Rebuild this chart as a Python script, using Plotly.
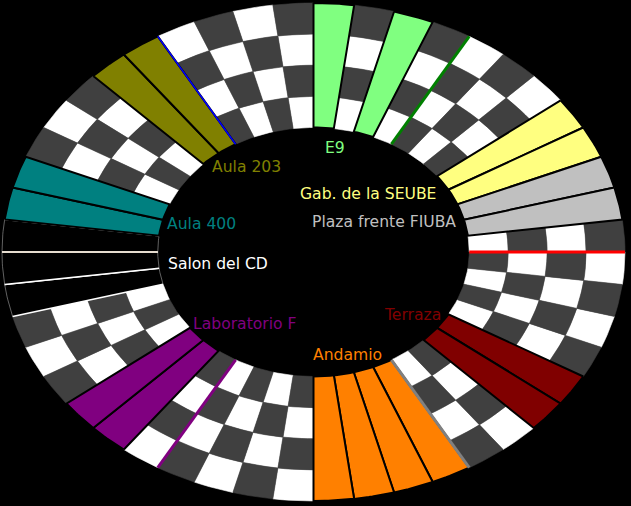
import numpy as np
import plotly.graph_objects as go

# ---------------- data ----------------
N_SLOTS = 48          # angular slots around the ring
N_RINGS = 4           # checker rings
R_IN, R_OUT = 0.5, 1.0

locations = ["E9", "Gab. de la SEUBE", "Plaza frente FIUBA", "Terraza", "Andamio",
             "Laboratorio F", "Salon del CD", "Aula 400", "Aula 203"]
location_colors = ["#80FF80", "#FFFF80", "#C0C0C0", "#800000", "#FF8000",
                   "#800080", "#000000", "#008080", "#808000"]
location_edge = ["black", "black", "black", "black", "black",
                 "black", "white", "black", "black"]

# events: location index, start slot, end slot
event_location = [0, 0, 1, 1, 2, 2, 3, 3, 4, 4, 4, 4, 5, 5, 6, 6, 6, 7, 7, 8, 8]
event_start    = [0, 2, 7, 8, 9, 10, 16, 17, 20, 21, 22, 23, 29, 30, 34, 35, 36, 37, 38, 42, 43]
event_end      = [1, 3, 8, 9, 10, 11, 17, 18, 21, 22, 23, 24, 30, 31, 35, 36, 37, 38, 39, 43, 44]

# zero-width markers at slot boundaries
marker_slot   = [4, 12, 20, 28, 36, 44]
marker_colors = ["#008000", "#FF0000", "#808080", "#800080", "#E6DCCF", "#0000FF"]
marker_width  = [3, 3, 3, 3, 2, 1.6]

# ---------------- helpers ----------------
DEG_PER_SLOT = 360.0 / N_SLOTS


def wedge(a0, a1, r0, r1, n=10):
    t = np.radians(np.linspace(a0, a1, n))
    xs = np.concatenate([r1 * np.sin(t), r0 * np.sin(t[::-1])])
    ys = np.concatenate([r1 * np.cos(t), r0 * np.cos(t[::-1])])
    xs = np.append(xs, xs[0])
    ys = np.append(ys, ys[0])
    return list(xs), list(ys)


def radial(a_deg):
    a = np.radians(a_deg)
    return [R_IN * np.sin(a), R_OUT * np.sin(a)], [R_IN * np.cos(a), R_OUT * np.cos(a)]


def arc(a0, a1, r, n=12):
    t = np.radians(np.linspace(a0, a1, n))
    return list(r * np.sin(t)), list(r * np.cos(t))


occupied = set()
for s, e in zip(event_start, event_end):
    occupied.update(range(s, e))

fig = go.Figure()

ring_w = (R_OUT - R_IN) / N_RINGS
cells = {"#FFFFFF": ([], []), "#404040": ([], [])}
for k in range(N_SLOTS):
    if k in occupied:
        continue
    for j in range(N_RINGS):
        col = "#404040" if (k + j) % 2 == 0 else "#FFFFFF"
        xs, ys = wedge(k * DEG_PER_SLOT, (k + 1) * DEG_PER_SLOT,
                       R_IN + j * ring_w, R_IN + (j + 1) * ring_w, n=6)
        cells[col][0].extend(xs + [None])
        cells[col][1].extend(ys + [None])

for col, (xs, ys) in cells.items():
    fig.add_trace(go.Scatter(x=xs, y=ys, mode="lines", fill="toself",
                             fillcolor=col, line=dict(color=col, width=0.6),
                             hoverinfo="skip", showlegend=False))

for loc, s, e in zip(event_location, event_start, event_end):
    a0, a1 = s * DEG_PER_SLOT, e * DEG_PER_SLOT
    xs, ys = wedge(a0, a1, R_IN, R_OUT, n=12)
    dark_edge = location_edge[loc] == "black"
    fig.add_trace(go.Scatter(x=xs, y=ys, mode="lines", fill="toself",
                             fillcolor=location_colors[loc],
                             line=dict(color="black", width=2 if dark_edge else 0),
                             hoverinfo="skip", showlegend=False))
    if not dark_edge:
        for r in (R_IN, R_OUT):
            ax, ay = arc(a0, a1, r)
            fig.add_trace(go.Scatter(x=ax, y=ay, mode="lines",
                                     line=dict(color="#7a7a7a", width=0.8),
                                     hoverinfo="skip", showlegend=False))
        for a in (a0, a1):
            rx_, ry_ = radial(a)
            fig.add_trace(go.Scatter(x=rx_, y=ry_, mode="lines",
                                     line=dict(color=location_edge[loc], width=1.6),
                                     hoverinfo="skip", showlegend=False))

for s, c, w in zip(marker_slot, marker_colors, marker_width):
    mx, my = radial(s * DEG_PER_SLOT)
    fig.add_trace(go.Scatter(x=mx, y=my, mode="lines", line=dict(color=c, width=w),
                             hoverinfo="skip", showlegend=False))

# ---------------- labels ----------------
W, H = 631, 506
label_px = {  # pixel anchor positions (layout)
    "E9": (334.5, 147.5, "center"),
    "Aula 203": (210, 166.5, "left"),
    "Gab. de la SEUBE": (438, 193.5, "right"),
    "Plaza frente FIUBA": (458, 222, "right"),
    "Aula 400": (165, 223.5, "left"),
    "Salon del CD": (166, 264, "left"),
    "Laboratorio F": (191, 323.5, "left"),
    "Terraza": (443, 315, "right"),
    "Andamio": (347, 355, "center"),
}
label_color = {"Salon del CD": "#FFFFFF"}
for name, col in zip(locations, location_colors):
    px, py, anchor = label_px[name]
    fig.add_annotation(x=px / W, y=1 - py / H, xref="paper", yref="paper",
                       text=name, showarrow=False, xanchor=anchor, yanchor="middle",
                       font=dict(family="DejaVu Sans", size=15.6,
                                 color=label_color.get(name, col)))

cx, cy, rx, ry = 313.5, 252.0, 311.5, 249.0
fig.update_layout(
    width=W, height=H, margin=dict(l=0, r=0, t=0, b=0),
    paper_bgcolor="black", plot_bgcolor="black",
    xaxis=dict(range=[-cx / rx, (W - cx) / rx], visible=False, fixedrange=True),
    yaxis=dict(range=[-(H - cy) / ry, cy / ry], visible=False, fixedrange=True),
    showlegend=False,
)

fig.write_html("out.html")
